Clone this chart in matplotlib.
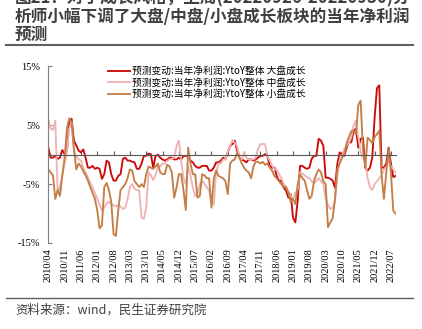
import numpy as np
import pandas as pd
import matplotlib
matplotlib.use("Agg")
from matplotlib import pyplot as plt
from matplotlib.lines import Line2D

plt.rcParams['font.family'] = ['Noto Sans CJK SC', 'DejaVu Sans']

# monthly readings, 2010/04 .. 2022/09 (%)
months = pd.date_range('2010-04-01', periods=150, freq='MS')

large_growth = [
    1.2, -0.5, -0.5, -0.2, -0.7, -0.5, 0.8, 0.1, 0.6, 5.8,
    6.1, 2.4, 1.6, 0.7, 0.4, 0.9, -0.5, -2.2, -2.2, -1.9,
    -2.4, -2.2, -2.4, -4.1, -3.3, -1.0, -1.3, -3.3, -4.4, -4.4,
    -3.6, -3.3, -0.7, -0.5, -1.0, -1.0, -1.2, -1.3, -2.4, -2.4,
    -1.5, -0.2, -0.2, 0.2, 0.1, -2.2, -0.2, 0.0, -0.5, -0.8,
    -1.0, -0.8, -0.5, -0.5, -0.8, -0.8, -0.5, -0.8, -0.2, -0.2,
    -0.2, -1.0, -1.3, -1.9, -2.2, -2.2, -1.9, -1.9, -1.9, -2.7,
    -2.7, -2.2, -1.3, -1.3, -1.0, -0.5, -0.8, 0.4, 1.5, 1.8,
    2.4, 0.7, -0.5, -0.8, -1.0, -1.3, -0.8, -0.8, -1.0, -0.8,
    -0.5, -0.2, -0.2, 0.1, -0.2, -1.9, -2.2, -2.2, -3.6, -4.4,
    -4.4, -5.6, -6.1, -7.3, -6.7, -10.7, -11.5, -7.8, -1.9, -1.9,
    -2.2, -2.4, -2.2, -0.7, -0.2, -0.2, 2.7, 2.4, 1.5, -3.9,
    -3.9, -4.1, -4.4, -5.6, -1.6, 0.4, 0.1, -0.2, 1.2, 2.1,
    2.1, 4.1, 4.4, 1.2, 2.7, 2.9, -2.2, -2.7, -2.2, -0.5,
    6.3, 11.3, 11.8, -2.2, -2.2, -1.5, 1.2, -1.5, -3.8, -3.6,
]

mid_growth = [
    6.0, 4.4, 4.2, 5.8, -6.5, -5.5, -3.5, -1.5, 0.5, 4.5,
    5.5, 0.5, -0.3, -0.8, -1.0, -2.2, -3.0, -3.9, -4.8, -5.6,
    -6.5, -7.5, -8.5, -9.5, -9.0, -8.3, -8.0, -8.3, -8.6, -8.8,
    -8.5, -8.8, -9.2, -9.0, -7.5, -5.5, -5.0, -5.8, -6.0, -6.1,
    -10.7, -10.9, -9.0, -3.0, -3.5, -4.3, -3.5, -2.0, -2.0, -1.5,
    -1.5, -1.0, -0.8, -0.7, -0.5, 1.5, 2.4, -1.0, -4.0, -5.0,
    -2.0, -3.5, -5.6, -7.0, -6.5, -5.0, -4.4, -5.0, -5.5, -6.1,
    -8.0, -8.5, -3.0, -1.5, -1.5, -0.8, -0.8, 0.5, 1.5, 2.5,
    2.0, 1.5, -0.5, -0.8, 0.3, -0.5, -0.8, -0.8, -0.8, -0.5,
    1.0, 1.8, 1.8, 1.8, -0.2, -1.0, -1.8, -2.5, -2.5, -3.3,
    -4.0, -5.0, -5.5, -6.2, -7.0, -7.5, -6.5, -6.0, -3.0, -3.2,
    -3.5, -3.8, -4.0, -4.5, -4.8, -4.5, -4.0, -4.5, -5.0, -7.5,
    -8.5, -9.2, -9.0, -8.0, -3.5, -1.0, -0.5, 1.0, 1.5, 2.0,
    3.0, 5.0, 5.8, 3.0, 0.5, -0.5, -1.0, -4.0, -5.5, -6.0,
    -5.0, -4.5, -4.0, -3.5, -2.5, -2.0, -1.0, -2.0, -2.5, -3.0,
]

small_growth = [
    -2.5, -3.0, -3.5, -7.5, -6.0, -7.0, -3.5, -0.5, 4.5, 6.2,
    5.5, 1.0, -2.5, -1.5, -2.0, -2.8, -3.5, -4.4, -5.5, -6.5,
    -7.5, -9.5, -12.5, -12.0, -5.5, -4.8, -6.0, -8.0, -13.5, -13.8,
    -9.5, -6.0, -5.5, -5.0, -4.0, -2.5, -2.7, -4.5, -5.0, -5.5,
    -5.0, -5.5, -3.3, -2.0, -2.2, -2.4, -2.0, -1.5, -3.0, -3.3,
    -3.3, -1.7, -2.0, -3.0, -7.3, -5.6, -3.3, -3.3, -6.0, -9.4,
    1.2, -1.5, -3.3, -3.3, -7.3, -7.0, -3.3, -3.5, -4.0, -4.0,
    -9.0, -4.0, -2.7, -3.6, -3.8, -4.0, -4.5, -6.7, -1.5, -1.0,
    -0.8, 0.3, -0.5, -1.5, -2.2, -2.7, -3.0, -4.0, -2.0, -1.2,
    -1.2, -1.5, -1.2, -1.7, -1.5, -2.2, -2.7, -3.6, -4.0, -4.5,
    -5.0, -5.5, -5.5, -6.5, -8.0, -7.5, -8.4, -5.0, -3.3, -4.0,
    -4.4, -6.0, -7.5, -7.0, -4.5, -3.3, -2.5, -3.0, -4.5, -5.0,
    -12.3, -11.5, -10.8, -7.5, -2.5, -1.5, -0.5, 0.0, 2.0, 3.0,
    4.0, 4.1, 3.5, 8.5, 9.2, 1.0, -2.2, 2.9, 2.5, 2.0,
    3.0, 3.5, 4.1, -3.5, -7.5, -3.0, 1.0, -3.0, -9.5, -10.0,
]

labels = ['预测变动:当年净利润:YtoY整体 大盘成长',
          '预测变动:当年净利润:YtoY整体 中盘成长',
          '预测变动:当年净利润:YtoY整体 小盘成长']
colors = ['#CC0A0A', '#F0B2B2', '#C47E48']

x = np.arange(len(months))
tick_idx = np.arange(0, len(months), 7)
tick_labels = [months[i].strftime('%Y/%m') for i in tick_idx]

fig = plt.figure(figsize=(4.22, 3.29), dpi=100)
ax = fig.add_axes([0.1145, 0.2614, 0.824, 0.5366])

for ys, lab, c in zip([large_growth, mid_growth, small_growth], labels, colors):
    ax.plot(x, ys, color=c, lw=1.35, label=lab)

ax.set_xlim(0, 149.2)
ax.set_ylim(-15, 15)
ax.set_yticks([15, 5, -5, -15])
ax.set_yticklabels(['15%', '5%', '-5%', '-15%'], family='Liberation Serif', fontsize=7.5)

for s in ['top', 'right']:
    ax.spines[s].set_visible(False)
ax.spines['left'].set_color('#7f7f7f')
ax.spines['bottom'].set_position(('data', 0))
ax.spines['bottom'].set_color('#595959')
ax.tick_params(axis='y', direction='in', length=3, color='#7f7f7f', pad=6)
ax.set_xticks(tick_idx)
ax.tick_params(axis='x', direction='in', length=3, color='#595959', labelbottom=False)

sec = ax.secondary_xaxis('bottom')
sec.spines['bottom'].set_visible(False)
sec.set_xticks(tick_idx)
sec.set_xticklabels(tick_labels, rotation=90, family='Liberation Serif', fontsize=7.5)
sec.tick_params(length=0, pad=4)

leg = ax.legend(loc='upper left', bbox_to_anchor=(108 / 422, 1 - 66 / 329),
                bbox_transform=fig.transFigure, frameon=False, fontsize=7,
                handlelength=2.3, handletextpad=0.2, labelspacing=0.15,
                borderpad=0, borderaxespad=0)

title_kw = dict(fontsize=12, fontweight='bold', color='#404040', va='center', ha='left')
fig.text(15 / 422, 1 + 1.5 / 329, '图21：对于成长风格，上周(20220926-20220930)分', **title_kw)
fig.text(15 / 422, 1 - 16.7 / 329, '析师小幅下调了大盘/中盘/小盘成长板块的当年净利润', **title_kw)
fig.text(15 / 422, 1 - 35 / 329, '预测', **title_kw)

fig.add_artist(Line2D([6 / 422, 413 / 422], [1 - 45 / 329] * 2,
                      transform=fig.transFigure, color='#606060', lw=1.5))
fig.add_artist(Line2D([6 / 422, 413 / 422], [1 - 298 / 329] * 2,
                      transform=fig.transFigure, color='#606060', lw=1.0))
fig.text(15 / 422, 1 - 310 / 329, '资料来源：wind，民生证券研究院', fontsize=9,
         color='#404040', va='center', ha='left')

fig.savefig('out.png', dpi=100)
